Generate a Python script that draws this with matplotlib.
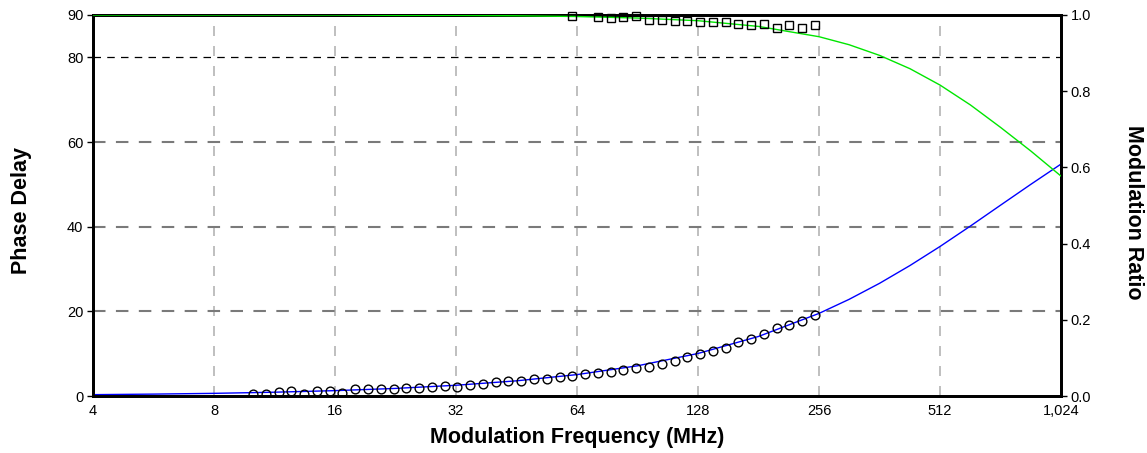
import matplotlib
matplotlib.use("Agg")
import matplotlib.pyplot as plt
from matplotlib.ticker import FixedLocator, FuncFormatter

plt.rcParams['font.family'] = ['Liberation Sans', 'DejaVu Sans']

# Measured frequencies (MHz)
freq_meas = [10.00, 10.76, 11.58, 12.46, 13.40, 14.42, 15.51, 16.69, 17.96, 19.32,
             20.79, 22.37, 24.07, 25.89, 27.86, 29.97, 32.25, 34.70, 37.33, 40.16,
             43.21, 46.49, 50.02, 53.82, 57.90, 62.29, 67.02, 72.11, 77.58, 83.47,
             89.80, 96.62, 103.95, 111.84, 120.33, 129.46, 139.29, 149.86, 161.23,
             173.47, 186.63, 200.80, 216.04, 232.43, 250.07]

# Measured phase delay (degrees)
phase_meas = [0.55, 0.55, 0.87, 1.10, 0.55, 1.10, 1.10, 0.80, 1.65, 1.65,
              1.65, 1.65, 1.90, 1.90, 2.10, 2.36, 2.20, 2.60, 2.80, 3.30,
              3.50, 3.50, 4.00, 4.00, 4.50, 4.70, 5.20, 5.40, 5.70, 6.10,
              6.60, 6.90, 7.50, 8.30, 9.30, 9.90, 10.60, 11.40, 12.80,
              13.50, 14.60, 16.00, 16.80, 17.80, 19.10]

# Measured modulation ratio
freq_mod = [62.29, 72.11, 77.58, 83.47, 89.80, 96.62, 103.95, 111.84, 120.33,
            129.46, 139.29, 149.86, 161.23, 173.47, 186.63, 200.80, 216.04,
            232.43, 250.07]
mod_meas = [0.998, 0.996, 0.991, 0.996, 0.997, 0.988, 0.988, 0.984, 0.984,
            0.982, 0.982, 0.982, 0.976, 0.974, 0.976, 0.967, 0.974, 0.967, 0.974]

# Fitted model curves
freq_fit = [4, 5.66, 8, 11.3, 16, 22.6, 32, 45.3, 64, 90.5, 128, 181, 256,
            304, 362, 431, 512, 609, 724, 861, 1024]
phase_fit = [0.32, 0.45, 0.63, 0.90, 1.27, 1.79, 2.54, 3.59, 5.06, 7.14, 10.05,
             14.07, 19.52, 22.83, 26.62, 30.83, 35.33, 40.14, 45.08, 50.00, 54.80]
mod_fit = [1.0, 1.0, 1.0, 1.0, 1.0, 0.999, 0.999, 0.998, 0.996, 0.992, 0.985,
           0.970, 0.943, 0.922, 0.894, 0.859, 0.816, 0.764, 0.705, 0.643, 0.577]

x_ticks = [4, 8, 16, 32, 64, 128, 256, 512, 1024]
phase_ticks = [0, 20, 40, 60, 80, 90]
mod_ticks = [0.0, 0.2, 0.4, 0.6, 0.8, 1.0]

W, H = 1147, 453
fig = plt.figure(figsize=(W / 100, H / 100), dpi=100)
ax = fig.add_axes([0.0811, 0.1258, 0.8440, 0.8411])
ax2 = ax.twinx()

ax.set_xscale('log', base=2)
ax.set_xlim(4, 1024)
ax.set_ylim(0, 90)
ax2.set_ylim(0, 1.0)

# grid
for xv in x_ticks[1:-1]:
    ax.axvline(xv, color='#b4b4b4', lw=1.2, ls=(0, (6, 6)), zorder=1)
ax.axhline(80, color='black', lw=0.9, ls=(0, (6, 5)), zorder=1)
for yv in [20, 40, 60]:
    ax.axhline(yv, color='#7a7a7a', lw=1.5, ls=(0, (6, 5)), zorder=1)

# curves
ax.plot(freq_fit, phase_fit, color='#0000ff', lw=1.0, zorder=3)
ax2.plot(freq_fit, mod_fit, color='#00e600', lw=1.0, zorder=3)
ax.plot(freq_meas, phase_meas, ls='none', marker='o', ms=6.3, mfc='none',
        mec='black', mew=1.0, zorder=4)
ax2.plot(freq_mod, mod_meas, ls='none', marker='s', ms=5.8, mfc='none',
         mec='black', mew=1.0, zorder=4, clip_on=False)

ax.xaxis.set_major_locator(FixedLocator(x_ticks))
ax.xaxis.set_minor_locator(FixedLocator([]))
ax.xaxis.set_major_formatter(FuncFormatter(lambda v, p: f"{int(round(v)):,}"))
ax.yaxis.set_major_locator(FixedLocator(phase_ticks))
ax2.yaxis.set_major_locator(FixedLocator(mod_ticks))
ax2.yaxis.set_major_formatter(FuncFormatter(lambda v, p: f"{v:.1f}"))

ax.tick_params(axis='x', length=0, pad=6, labelsize=10.5)
ax.tick_params(axis='y', length=4, width=1, pad=3, labelsize=10.5)
ax2.tick_params(axis='y', length=4, width=1, pad=3, labelsize=10.5)

for a in (ax, ax2):
    for s in a.spines.values():
        s.set_linewidth(2.0)
        s.set_color('black')

label_kw = dict(fontsize=15.5, fontweight='bold', ha='center', va='center')
fig.text(577 / W, 1 - 438 / H, 'Modulation Frequency (MHz)', **label_kw)
fig.text(22 / W, 1 - 210 / H, 'Phase Delay', rotation=90, **label_kw)
fig.text(1134 / W, 1 - 212 / H, 'Modulation Ratio', rotation=-90, **label_kw)

fig.savefig('out.png', dpi=100)
